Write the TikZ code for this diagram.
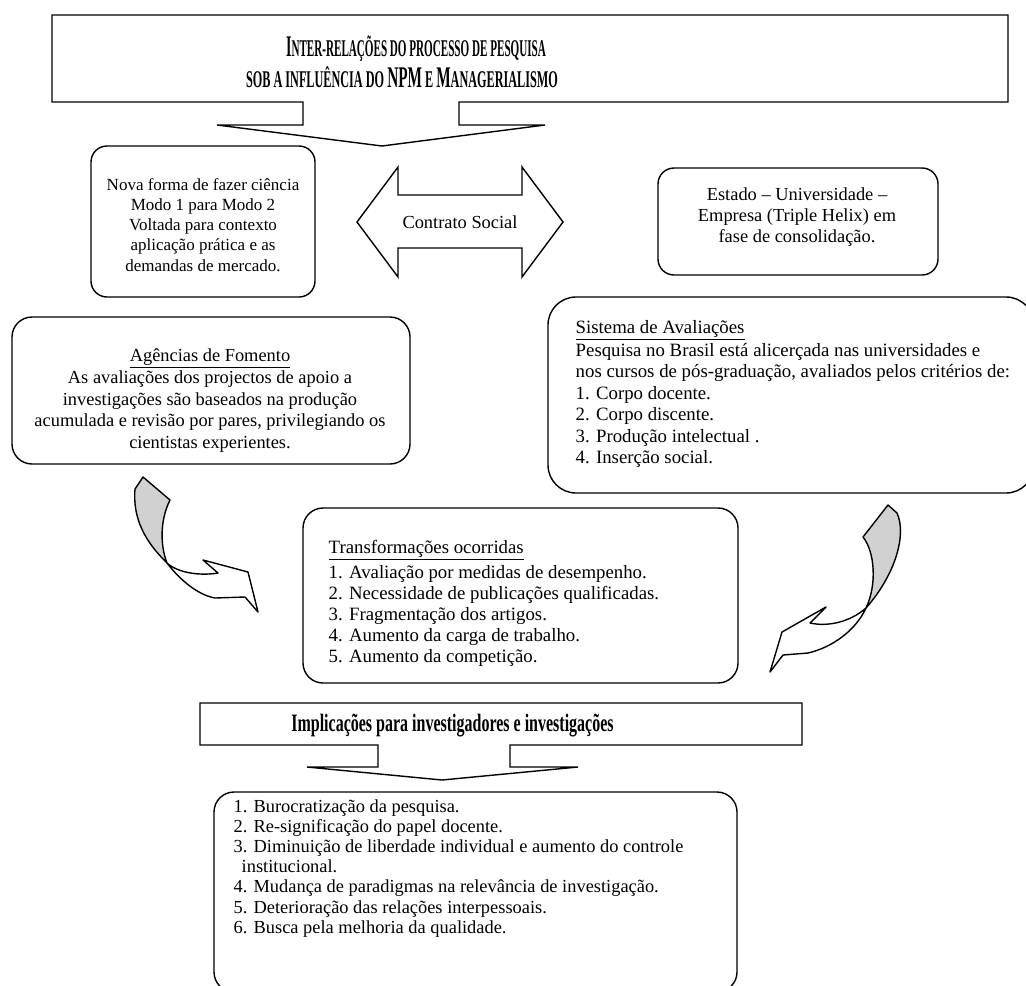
\documentclass[tikz,border=0pt]{standalone}
\usepackage{fontspec}
\setmainfont{Liberation Serif}
\usepackage{graphicx}
\usetikzlibrary{positioning}

\newcommand{\capbig}[1]{{\fontsize{15}{16}\selectfont #1}}
\newcommand{\capsmall}[1]{{\fontsize{12}{13}\selectfont #1}}

\begin{document}
\begin{tikzpicture}[
  x=0.5pt, y=-0.5pt,
  line width=0.7pt,
  rbox/.style={draw, rounded corners=8pt},
  back/.style={draw, fill=black!18, line join=round},
  front/.style={draw, fill=white, line join=round},
  lbl/.style={inner sep=0pt, anchor=base},
  lbll/.style={inner sep=0pt, anchor=base west},
  novatxt/.style={lbl, font=\fontsize{8.5}{10}\selectfont},
  midtxt/.style={lbl, font=\fontsize{9.2}{11}\selectfont},
  listtxt/.style={lbll, font=\fontsize{9.4}{11}\selectfont},
]
\useasboundingbox (0,0) rectangle (1026,985);

% title box with its arrow
\draw (303,102) -- (52,102) -- (52,15) -- (1008,15) -- (1008,102) -- (459,102)
  -- (459,125) -- (545,125) -- (382,146) -- (217,125) -- (303,125) -- cycle;
\node[lbl, font=\bfseries] (tit1) at (416,56)
  {\scalebox{0.463}[1]{\capbig{I}\capsmall{NTER-RELAÇÕES DO PROCESSO DE PESQUISA}}};
\node[lbl, font=\bfseries] (tit2) at (402,87)
  {\scalebox{0.509}[1]{\capsmall{SOB A INFLUÊNCIA DO }\capbig{NPM}\capsmall{ E }\capbig{M}\capsmall{ANAGERIALISMO}}};

% upper row
\draw[rbox] (91,146) rectangle (315,297);
\foreach \l [count=\i from 0] in {Nova forma de fazer ciência, Modo 1 para Modo 2,
    Voltada para contexto, aplicação prática e as, demandas de mercado.} {
  \node[novatxt] (nv\i) at (203,190+20.3*\i) {\l};
}
\draw (357,222) -- (398,167) -- (398,195) -- (522,195) -- (522,167) -- (563,222)
  -- (522,277) -- (522,248) -- (398,248) -- (398,277) -- cycle;
\node[midtxt, anchor=center] (cs) at (460,222) {Contrato Social};
\draw[rbox] (658,168) rectangle (938,275);
\foreach \l [count=\i from 0] in {Estado – Universidade –, Empresa (Triple Helix) em,
    fase de consolidação.} {
  \node[midtxt] (est\i) at (797,200.5+21*\i) {\l};
}

% agencias and avaliacoes
\draw[rbox, rounded corners=10pt] (12,317) rectangle (410,464);
\node[midtxt] (ag0) at (210,361) {\underline{Agências de Fomento}};
\foreach \l [count=\i] in {As avaliações dos projectos de apoio a,
    investigações são baseados na produção,
    {acumulada e revisão por pares, privilegiando os}, cientistas experientes.} {
  \node[midtxt] (ag\i) at (210,362+21.5*\i) {\l};
}
\draw[rbox, rounded corners=14pt] (548,297) rectangle (1034,493);
\node[listtxt] (sis0) at (575,333) {\underline{Sistema de Avaliações}};
\foreach \l [count=\i] in {Pesquisa no Brasil está alicerçada nas universidades e,
    {nos cursos de pós-graduação, avaliados pelos critérios de:},
    1. Corpo docente., 2. Corpo discente., 3. Produção intelectual .,
    4. Inserção social.} {
  \node[listtxt] (sis\i) at (575,334.5+21.5*\i) {\l};
}

% curved arrows
\draw[back] (135,489) -- (143,477) -- (170,500)
  .. controls (160,520) and (160,545) .. (167,563)
  .. controls (152,548) and (132,525) .. (135,489) -- cycle;
\draw[front] (167,563) .. controls (178,573) and (200,576) .. (218,573)
  -- (203,560) -- (248,572) -- (258,612) -- (245,597) -- (215,598)
  .. controls (198,595) and (180,580) .. (167,563) -- cycle;
\draw[back] (863,537) -- (888,505) -- (897,513)
  .. controls (907,535) and (895,575) .. (866,608)
  .. controls (877,585) and (875,552) .. (863,537) -- cycle;
\draw[front] (866,608) .. controls (850,622) and (828,627) .. (810,623)
  -- (826,607) -- (782,632) -- (770,672) -- (783,655) -- (808,653)
  .. controls (830,648) and (855,632) .. (866,608) -- cycle;

% transformacoes
\draw[rbox, rounded corners=10pt] (303,508) rectangle (738,683);
\node[listtxt] (tr0) at (328,553) {\underline{Transformações ocorridas}};
\foreach \l [count=\i] in {Avaliação por medidas de desempenho.,
    Necessidade de publicações qualificadas., Fragmentação dos artigos.,
    Aumento da carga de trabalho., Aumento da competição.} {
  \node[listtxt] (tr\i) at (328,557+21*\i) {\i. \l};
}

% implicacoes
\draw (378,745) -- (200,745) -- (200,703) -- (802,703) -- (802,745) -- (510,745)
  -- (510,767) -- (578,767) -- (442,780) -- (307,767) -- (378,767) -- cycle;
\node[lbl, font=\fontsize{12.5}{13}\selectfont\bfseries] (imp) at (452.5,731)
  {\scalebox{0.64}[1]{Implicações para investigadores e investigações}};
\draw[rbox, rounded corners=10pt] (214,792) rectangle (737,992);
\foreach \l [count=\i from 0] in {1. Burocratização da pesquisa.,
    2. Re-significação do papel docente.,
    3. Diminuição de liberdade individual e aumento do controle,
    \hspace*{4pt}institucional.,
    4. Mudança de paradigmas na relevância de investigação.,
    5. Deterioração das relações interpessoais.,
    6. Busca pela melhoria da qualidade.} {
  \node[listtxt, font=\fontsize{9.2}{11}\selectfont] (bu\i) at (233,812+20.2*\i) {\l};
}
\end{tikzpicture}
\end{document}
